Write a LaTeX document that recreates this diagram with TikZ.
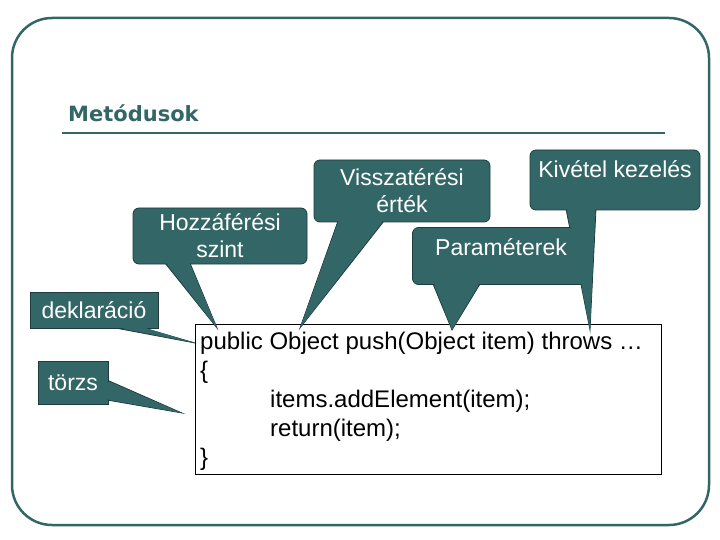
\documentclass[tikz,border=0pt]{standalone}
\usepackage{fontspec}
\setmainfont{Liberation Sans}
\newfontfamily\headfont{DejaVu Sans}
\usetikzlibrary{calc}
\definecolor{teal}{RGB}{51,102,102}
\definecolor{tealdark}{RGB}{30,60,60}
\tikzset{
  callbox/.style={draw=tealdark,fill=teal,text=white,rounded corners=6pt,line width=0.8pt,align=center,font=\fontsize{23}{27}\selectfont,inner sep=0pt},
  tagbox/.style={callbox,rounded corners=0pt},
  ptr/.style={fill=teal,draw=tealdark,line width=0.8pt},
  codeline/.style={anchor=west,font=\fontsize{24}{24}\selectfont,inner sep=0pt}
}
\begin{document}
\begin{tikzpicture}[x=1pt,y=-1pt]
\useasboundingbox (0,0) rectangle (720,540);
\draw[teal,line width=2.5pt,rounded corners=40pt] (12,18) rectangle (709,525);
\node (title) [anchor=west,text=teal,font=\headfont\bfseries\fontsize{21}{22}\selectfont,inner sep=0pt] at (68,113) {Metódusok};
\draw[teal,line width=2.5pt] (62,133) -- (665,133);

% code box
\node (code) [draw,line width=0.6pt,minimum width=466pt,minimum height=150pt,anchor=north west,inner sep=0pt] at (195,324) {};
\node (l1) [codeline] at (200,343) {public Object push(Object item) throws \ldots};
\node (l2) [codeline] at (200,372) {\{};
\node (l3) [codeline] at (270,401) {items.addElement(item);};
\node (l4) [codeline] at (270,430) {return(item);};
\node (l5) [codeline] at (200,459) {\}};

% tips
\coordinate (tAcc) at (217,328);
\coordinate (tRet) at (300,328);
\coordinate (tPar) at (452,330);
\coordinate (tExc) at (590,330);
\coordinate (tDecl) at (195,343);
\coordinate (tBody) at (182,413);

% callout pointers first
\draw[ptr] (165,263) -- (tAcc) -- (190,263) -- cycle;
\draw[ptr] (338,221) -- (tRet) -- (384,221) -- cycle;
\draw[ptr] (433,284) -- (tPar) -- (480,284) -- cycle;
\draw[ptr] (566,209) -- (tExc) -- (596,209) -- cycle;
\draw[ptr] (110,327) -- (tDecl) -- (140,327) -- cycle;
\draw[ptr] (107,380) -- (tBody) -- (107,400) -- cycle;

% callout boxes
\node (acc) [callbox,minimum width=174pt,minimum height=56pt] at (220,236) {Hozzáférési\\szint};
\node (ret) [callbox,minimum width=176pt,minimum height=62pt] at (402,191) {Visszatérési\\érték};
\node (exc) [callbox,minimum width=170pt,minimum height=60pt,text depth=22pt] at (615,180) {Kivétel kezelés};
\node (par) [callbox,minimum width=177pt,minimum height=57pt,text depth=18pt] at (501,256) {Paraméterek};
\node (decl) [tagbox,minimum width=128pt,minimum height=36pt] at (94,310) {deklaráció};
\node (body) [tagbox,minimum width=70pt,minimum height=43pt] at (73,383) {törzs};

% hide base lines
\fill[teal] (166,262) -- (tAcc) -- (189,262) -- cycle;
\fill[teal] (339,220) -- (tRet) -- (383,220) -- cycle;
\fill[teal] (434,283) -- (tPar) -- (479,283) -- cycle;
\fill[teal] (567,208) -- (tExc) -- (595,208) -- cycle;
\fill[teal] (111,326) -- (tDecl) -- (139,326) -- cycle;
\fill[teal] (106,381) -- (tBody) -- (106,399) -- cycle;
\end{tikzpicture}
\end{document}
